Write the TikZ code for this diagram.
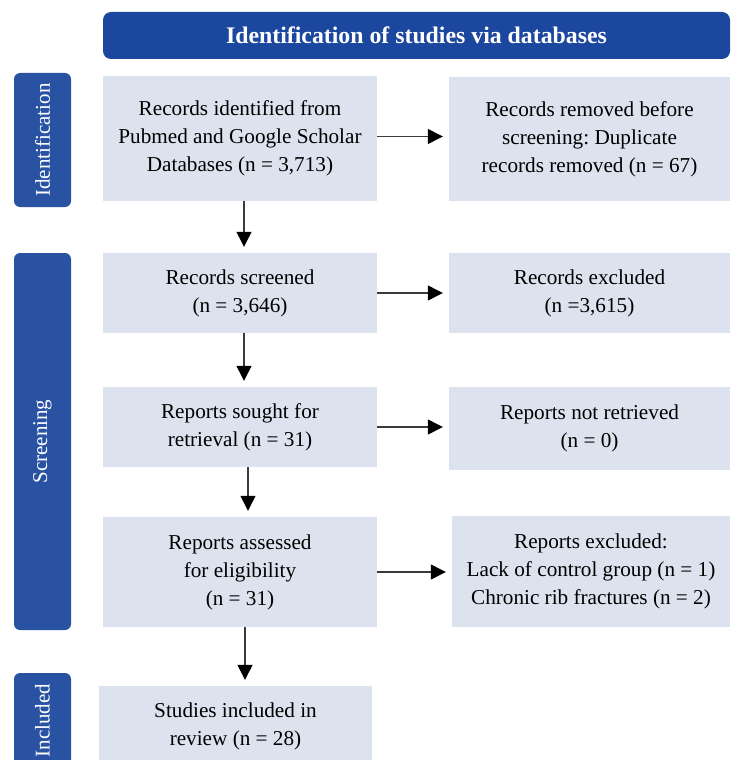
\documentclass[tikz,border=0pt]{standalone}
\usepackage{fontspec}
\setmainfont{Liberation Serif}
\usetikzlibrary{arrows.meta}
\definecolor{hdrblue}{HTML}{1C479E}
\definecolor{sideblue}{HTML}{2A52A3}
\definecolor{boxfill}{HTML}{DCE3EF}
\definecolor{linegray}{HTML}{3A3A3A}
\frenchspacing
\begin{document}
\begin{tikzpicture}[x=1pt,y=-1pt,
  box/.style={fill=boxfill, draw=none, align=center, inner sep=0pt,
    font=\fontsize{21.2}{28}\selectfont, text=black},
  side/.style={fill=sideblue, rounded corners=6pt, text=white, inner sep=0pt,
    font=\fontsize{21}{22}\selectfont, rotate=90},
  hdr/.style={fill=hdrblue, rounded corners=8pt, text=white, inner sep=0pt,
    font=\fontsize{23.8}{26}\selectfont\bfseries},
  arr/.style={draw=linegray, line width=1.3pt,
    -{Triangle[length=15pt,width=15pt,color=black]}, shorten >=6pt}]
\useasboundingbox (0,0) rectangle (734,760);
\clip (0,0) rectangle (734,760);

% header
\node[hdr, minimum width=627pt, minimum height=47pt] (hdr) at (416.5,35.5)
  {Identification of studies via databases};

% side labels
\node[side, minimum width=134pt, minimum height=57pt] (sid) at (42.5,140) {Identification};
\node[side, minimum width=377pt, minimum height=57pt] (sscr) at (42.5,441.5) {Screening};
\node[side, minimum width=95pt, minimum height=57pt] (sinc) at (42.5,720.5) {Included};

% boxes
\node[box, minimum width=274pt, minimum height=125pt] (b1) at (240,138.5)
  {Records identified from\\Pubmed and Google Scholar\\Databases (n = 3,713)};
\node[box, minimum width=281pt, minimum height=124pt] (b2) at (589.5,139)
  {Records removed before\\screening: Duplicate\\records removed (n = 67)};
\node[box, minimum width=274pt, minimum height=80pt] (b3) at (240,293)
  {Records screened\\(n = 3,646)};
\node[box, minimum width=281pt, minimum height=80pt] (b4) at (589.5,293)
  {Records excluded\\(n =3,615)};
\node[box, minimum width=274pt, minimum height=80pt] (b5) at (240,427)
  {Reports sought for\\retrieval (n = 31)};
\node[box, minimum width=281pt, minimum height=83pt] (b6) at (589.5,428.5)
  {Reports not retrieved\\(n = 0)};
\node[box, minimum width=274pt, minimum height=110pt] (b7) at (240,572)
  {Reports assessed\\for eligibility\\(n = 31)};
\node[box, minimum width=278pt, minimum height=111pt] (b8) at (591,571.5)
  {Reports excluded:\\Lack of control group (n = 1)\\Chronic rib fractures (n = 2)};
\node[box, minimum width=273pt, minimum height=80pt] (b9) at (235.5,726)
  {Studies included in\\review (n = 28)};

% horizontal arrows
\draw[arr] ([yshift=2pt]b1.east) -- ([yshift=2pt]b1.east -| b2.west);
\draw[arr] (b3.east) -- (b3.east -| b4.west);
\draw[arr] (b5.east) -- (b5.east -| b6.west);
\draw[arr] (b7.east) -- (b7.east -| b8.west);

% vertical arrows
\draw[arr] ([xshift=4pt]b1.south) -- ([xshift=4pt]b1.south |- b3.north);
\draw[arr] ([xshift=4pt]b3.south) -- ([xshift=4pt]b3.south |- b5.north);
\draw[arr] ([xshift=8pt]b5.south) -- ([xshift=8pt]b5.south |- b7.north);
\draw[arr] ([xshift=5pt]b7.south) -- ([xshift=5pt]b7.south |- b9.north);
\end{tikzpicture}
\end{document}
